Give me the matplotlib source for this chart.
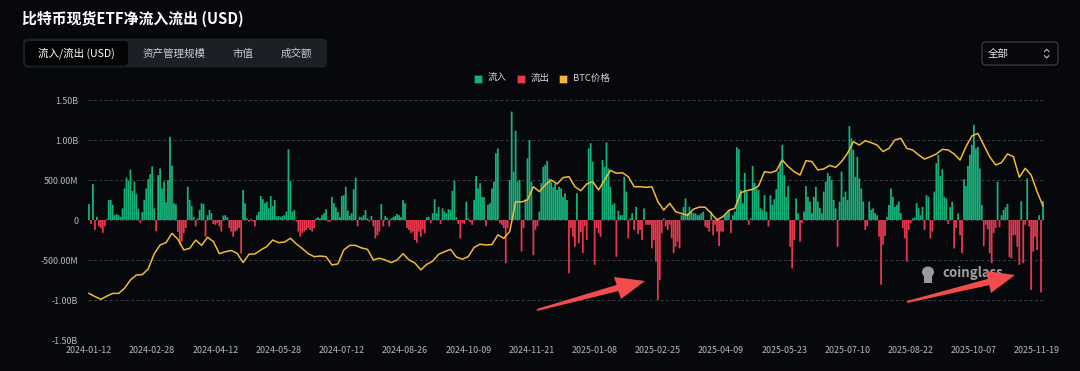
import numpy as np
import matplotlib
matplotlib.use("Agg")
import matplotlib.pyplot as plt
from matplotlib.patches import FancyBboxPatch, Rectangle, Polygon, Ellipse

plt.rcParams['font.family'] = ['Noto Sans CJK SC', 'DejaVu Sans']

# ---------------- data ----------------
title = "比特币现货ETF净流入流出 (USD)"
tabs = ["流入/流出 (USD)", "资产管理规模", "市值", "成交额"]
legend_labels = ["流入", "流出", "BTC价格"]
x_tick_labels = ["2024-01-12", "2024-02-28", "2024-04-12", "2024-05-28", "2024-07-12",
                 "2024-08-26", "2024-10-09", "2024-11-21", "2025-01-08", "2025-02-25",
                 "2025-04-09", "2025-05-23", "2025-07-10", "2025-08-22", "2025-10-07",
                 "2025-11-19"]
y_ticks = [-1.5e9, -1.0e9, -0.5e9, 0, 0.5e9, 1.0e9, 1.5e9]
y_tick_labels = ["-1.50B", "-1.00B", "-500.00M", "0", "500.00M", "1.00B", "1.50B"]

# daily net flow (million USD), Jan 2024 -> Oct 2024
flows_2024a = [200, -50, 450, -125, 40, -80, -100, -160, -80, 10,
               250, 250, 190, 60, 75, 60, 40, 145, 395, 530,
               490, 630, 365, 480, 325, 140, -35, 100, 250, 395,
               510, 575, 670, 145, -140, 560, 645, 395, 480, 220,
               500, 1040, 680, 210, 195, -150, -310, -270, -165, -100,
               415, 250, 175, 40, -80, 20, 125, 210, 200, -210,
               60, 125, 85, -50, -60, -40, -80, -145, 55, 60,
               35, -100, -145, -210, -145, -125, -100, -420, 375, 210,
               20, -20, 10, -20, -80, 60, 105, 300, 260, 210,
               230, 145, 300, 175, 250, 45, 50, 40, 50, 60, 105,
               885, 490, 105, 125, -20, -145, -210, -165, -145, -125,
               -100, -125, -145, -100, 20, 35, 20, 60, 85, 135,
               -20, -20, 290, 210, 160, 100, 35, 300, 310, 415, 120,
               50, 85, 385, 530, -80, 40, 35, 60, 125, 20,
               -20, 50, -80, -230, -190, -145, 200, -80, 50, 30,
               -80, 20, 35, 50, 75, 60, 35, 250, 210, -100,
               -125, -165, -145, -250, -285, -145, -210, -120, -165, 35, 40,
               -40, 85, 260, 85, 165, -50, 145, 105, 85, 135,
               125, 365, 490, 35, -50, -230, -40, -50, 230, 20,
               -30, -60, 250, 550, 395, 460]
# Oct 2024 -> May 2025
flows_2024b = [290, 285, -75, 190, 210, 395, 480, 835, 895, -40,
               -60, -100, -540, -100, 500, 1355, 605, 1115, 480, 500,
               -395, -100, 260, 770, 1000, 480, -440, -125, -80, 105,
               460, 665, 690, 740, 520, 480, 410, 450, 375, 415,
               395, 290, 335, 250, -665, -100, -210, -335, 335, -290, -150,
               -415, -80, -250, 895, 960, 730, -560, -100, -165, -210,
               750, 665, 970, 645, 415, 190, 210, -460, 115, 60,
               60, 540, 355, -230, 20, 85, -125, 165, -175, -125,
               -250, 145, -60, -60, -60, -355, -250, -520, -1000, -750,
               -165, 20, -80, -125, -60, -230, -415, -335, -270, -355,
               60, 165, 270, 85, 165, 105, 85, 85, 60, 60,
               85, 105, -80, -100, -145, 105, -190, -60, -145, -325,
               -145, -145, 60, 85, 125, -165, 60, 105, 910, 885,
               375, 210, 590, 355, -60, 20, 675, 465, 395, 375]
# May 2025 -> Nov 2025
flows_2025 = [145, 125, 310, 105, -80, 310, 190, 260, 385, 605,
              730, 940, 560, 290, 425, -335, -605, -250, 270, 85,
              -270, -35, 105, 425, 290, 230, 85, 290, 415, 230, 150,
              85, 355, 480, 590, 550, 500, 250, 145, -335, 230,
              605, 290, 355, 250, 1175, 1020, 875, 540, 790, 520,
              395, 230, -125, -80, 230, 125, 145, 85, 60, -210,
              -810, -310, -200, 40, 190, 395, 290, 165, 190, 230,
              85, -100, -230, -520, -125, -40, 20, 30, 210, 145, 60,
              165, -125, 310, 290, -230, -145, 355, 710, 815, 550,
              635, 290, 270, -50, 160, 230, -355, -100, 85, -190,
              -415, 510, 425, 675, 815, 940, 1190, 895, 915, 645,
              190, -325, -60, -115, -415, -540, -165, -100, 480, -90,
              60, 125, 160, 200, -465, -480, -190, -190, -335, -560,
              235, -540, -60, 520, -80, -875, -395, -210, -375, 60,
              -905, 238]

# BTC price (thousand USD), sampled every 3 trading days
btc_step = 3
btc_2024a = [42.3, 40.7, 39.3, 40.9, 42.3, 42.3, 44.9, 49.1, 51.6, 51.8,
             54.7, 62.3, 66.8, 68.0, 72.7, 69.7, 64.3, 65.1, 69.3, 66.6,
             70.7, 68.5, 62.4, 63.4, 64.0, 62.6, 57.9, 62.1, 62.3, 64.3,
             66.0, 69.3, 68.0, 68.3, 70.2, 67.3, 65.0, 62.4, 60.9, 61.2,
             60.9, 56.7, 57.2, 64.3, 66.6, 66.6, 65.3, 64.6, 59.2, 60.1,
             59.2, 57.9, 59.2, 62.4, 59.2, 57.7, 54.2, 57.0, 58.6, 62.1,
             63.4, 64.6, 60.7, 59.6, 60.9, 65.6, 67.2]
btc_2024b = [66.8, 67.0, 71.9, 70.2, 73.6, 88.7, 88.6, 89.6, 96.3, 93.8,
             97.2, 99.7, 97.7, 100.9, 101.4, 96.3, 94.3, 97.7, 98.9, 94.7,
             99.7, 104.6, 103.1, 103.4, 101.4, 96.3, 96.3, 96.0, 96.3, 88.7,
             84.5, 87.9, 83.7, 82.7, 81.8, 84.9, 86.0, 85.9, 82.8, 79.5,
             81.2, 84.4, 85.4, 93.3, 94.3, 95.0, 96.7]
btc_2025 = [103.9, 103.4, 104.4, 109.8, 106.5, 103.9, 102.2, 109.5, 109.0, 104.8,
            105.3, 107.1, 106.1, 109.0, 113.2, 119.1, 117.4, 119.6, 118.6, 117.4,
            114.1, 115.7, 120.0, 120.8, 115.7, 114.9, 112.4, 110.3, 111.5, 112.9,
            115.2, 114.9, 112.9, 109.8, 116.6, 122.0, 123.3, 117.4, 111.5, 107.3,
            108.5, 112.9, 111.5, 101.1, 105.6, 102.2, 93.8, 86.5]

flows = np.array(flows_2024a + flows_2024b + flows_2025, dtype=float) * 1e6
btc = np.array(btc_2024a + btc_2024b + btc_2025, dtype=float)
n = len(flows)
idx = np.arange(n)
btc_x = np.arange(len(btc)) * btc_step

# ---------------- style ----------------
BG = "#06080c"
GREEN = "#16b27a"
RED = "#e8384f"
GOLD = "#f0b93a"
GRID = "#3a3e45"
TICK = "#b4b7bd"

W, H = 1080, 371
fig = plt.figure(figsize=(W / 100, H / 100), dpi=100, facecolor=BG)

# main axes: x 88..1044 px, y 100..340 px
L, R, T, B = 88, 1044, 100, 340
ax = fig.add_axes([L / W, 1 - B / H, (R - L) / W, (B - T) / H])
ax.set_facecolor(BG)
inflow = np.where(flows > 0, flows, 0)
outflow = np.where(flows < 0, flows, 0)
ax.bar(idx, inflow, width=0.9, color=GREEN, linewidth=0, zorder=2, snap=False)
ax.bar(idx, outflow, width=0.9, color=RED, linewidth=0, zorder=2, snap=False)
ax.set_xlim(-0.5, n - 0.5)
ax.set_ylim(-1.5e9, 1.5e9)
ax.set_yticks(y_ticks)
ax.set_yticklabels(y_tick_labels)
ax.set_xticks(np.arange(len(x_tick_labels)) * 32)
ax.set_xticklabels(x_tick_labels)
ax.tick_params(axis='both', length=0, colors=TICK, labelsize=6.4)
ax.tick_params(axis='y', pad=7)
ax.tick_params(axis='x', pad=4)
for s in ax.spines.values():
    s.set_visible(False)
ax.grid(axis='y', color=GRID, linestyle=(0, (3, 2.5)), linewidth=0.7, zorder=0)
ax.set_axisbelow(True)

ax2 = ax.twinx()
ax2.plot(btc_x, btc, color=GOLD, linewidth=1.1, zorder=3)
ax2.set_ylim(18.7, 140.2)
ax2.set_yticks([])
for s in ax2.spines.values():
    s.set_visible(False)

# ---------------- decoration overlay (pixel coords) ----------------
d = fig.add_axes([0, 0, 1, 1], facecolor='none')
d.set_xlim(0, W)
d.set_ylim(H, 0)
d.axis('off')

d.text(22, 19, title, color='white', fontsize=10.7, fontweight='bold',
       va='center', ha='left')

d.add_patch(FancyBboxPatch((23, 38.5), 304, 29, boxstyle="round,pad=0,rounding_size=5",
                           facecolor="#1c1f25", edgecolor='none'))
d.add_patch(FancyBboxPatch((25, 41), 103, 24.5, boxstyle="round,pad=0,rounding_size=4",
                           facecolor="#030405", edgecolor='none'))
tab_x = [76, 174, 243, 296]
for t, tx in zip(tabs, tab_x):
    d.text(tx, 53.5, t, color='white' if tx == 76 else '#c9cbd0', fontsize=7.6,
           ha='center', va='center')

d.add_patch(FancyBboxPatch((982, 42), 76, 23, boxstyle="round,pad=0,rounding_size=4",
                           facecolor=BG, edgecolor="#3b3e45", linewidth=0.9))
d.text(988, 53.5, "全部", color='#e6e6e6', fontsize=7.6, ha='left', va='center')
d.plot([1044.5, 1046.7, 1048.9], [51.5, 49.3, 51.5], color='#c0c0c0', lw=0.8)
d.plot([1044.5, 1046.7, 1048.9], [55.7, 57.9, 55.7], color='#c0c0c0', lw=0.8)

# legend
leg_items = [(474, GREEN, legend_labels[0]), (517, RED, legend_labels[1]),
             (559, GOLD, legend_labels[2])]
for lx, c, lab in leg_items:
    d.add_patch(Rectangle((lx, 74.5), 8, 8, facecolor=c, edgecolor='#222', lw=0.4))
    d.text(lx + 14, 78.5, lab, color='#d4d6da', fontsize=6.8, ha='left', va='center')

# watermark
d.add_patch(Ellipse((928, 272), 12, 11, facecolor='#9a9a9a', edgecolor='none', zorder=4))
d.add_patch(Rectangle((924, 274), 8, 9, facecolor='#9a9a9a', edgecolor='none', zorder=4))
d.text(942, 273.5, "coinglass", color='#a0a0a0', fontsize=9.5, fontweight='bold',
       ha='left', va='center', zorder=4)

# annotation arrows
def arrow(tail, tip, b1, b2, w0=1.0, w1=3.2):
    tail = np.array(tail, float)
    tip = np.array(tip, float)
    b1 = np.array(b1, float)
    b2 = np.array(b2, float)
    base = (b1 + b2) / 2
    v = base - tail
    v = v / np.hypot(*v)
    nrm = np.array([-v[1], v[0]])
    pts = [tail + nrm * w0, base + nrm * w1, b1 if np.dot(b1 - base, nrm) > 0 else b2,
           tip, b2 if np.dot(b1 - base, nrm) > 0 else b1, base - nrm * w1, tail - nrm * w0]
    d.add_patch(Polygon(pts, closed=True, facecolor='#f24c4c', edgecolor='none', zorder=6))

arrow((537, 310), (645, 281), (614, 277), (621, 299))
arrow((907, 302), (1015, 275), (986, 271), (991, 293))

fig.savefig("out.png", dpi=100, facecolor=BG)
